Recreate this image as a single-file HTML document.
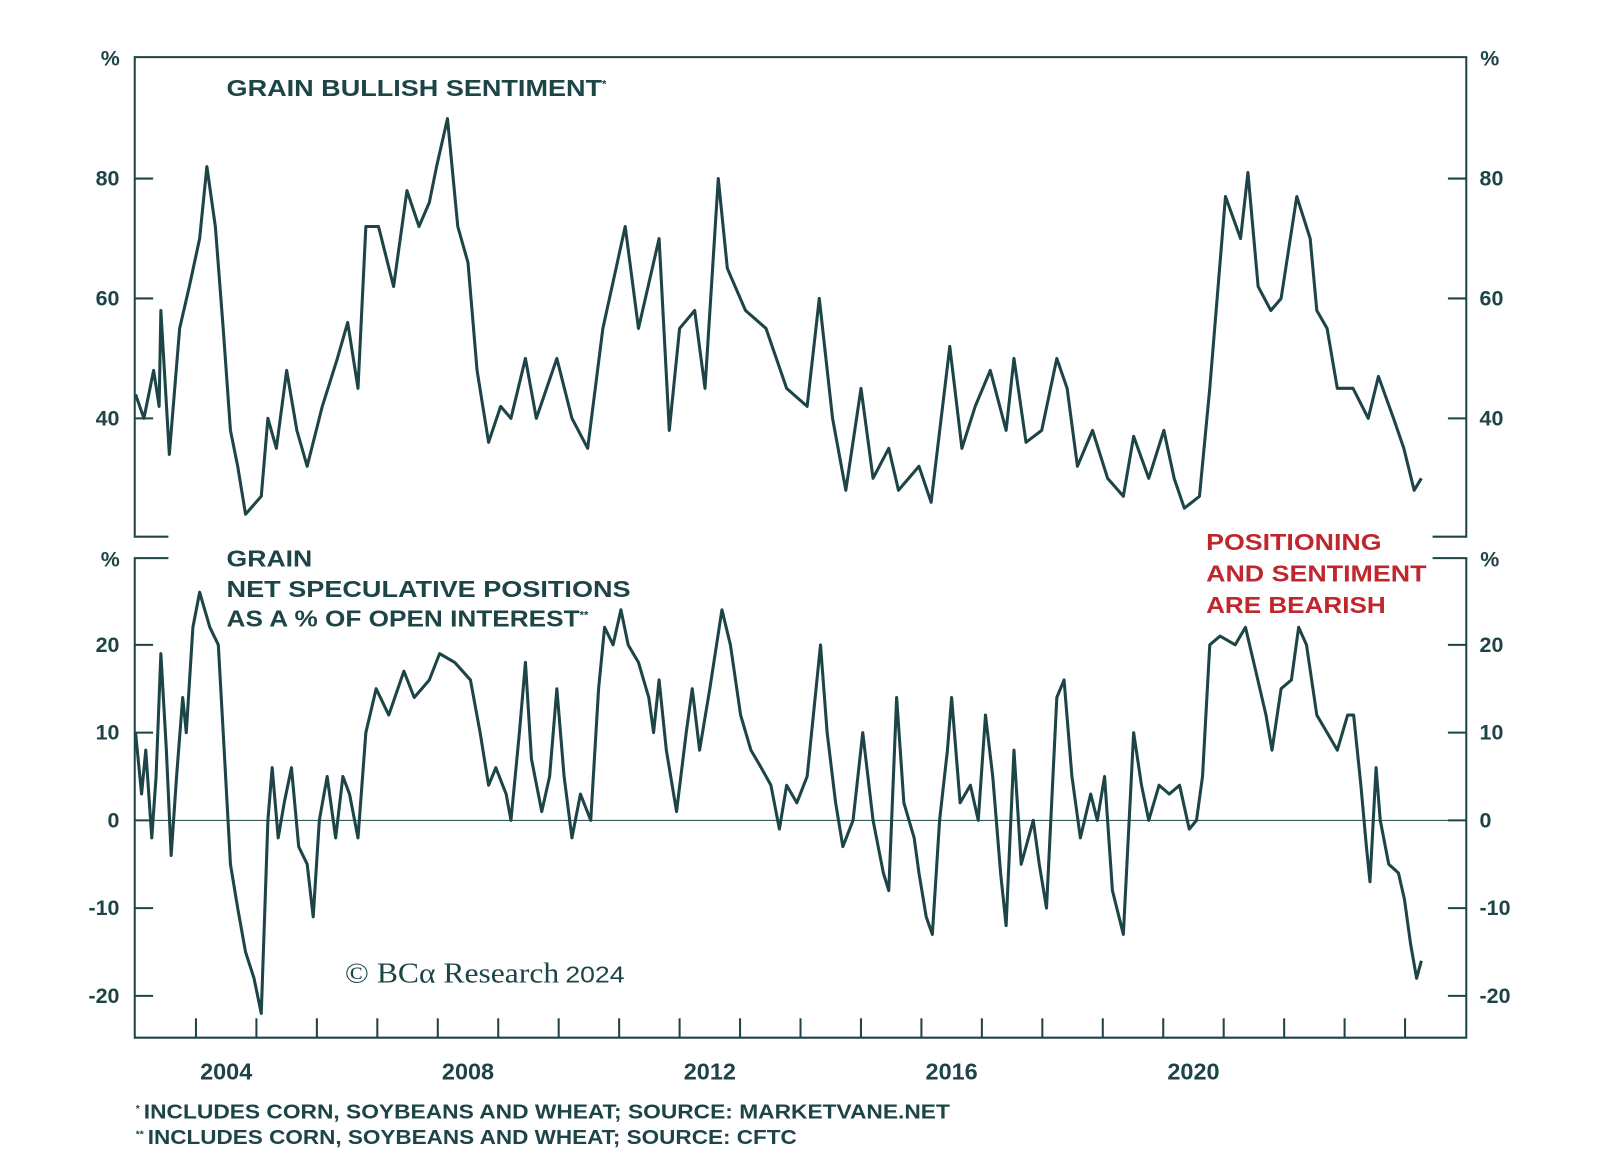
<!DOCTYPE html>
<html><head><meta charset="utf-8"><style>
html,body{margin:0;padding:0;background:#fff;}
svg{display:block;}
text{font-family:"Liberation Sans",sans-serif;fill:#1d4446;font-weight:bold;}
</style></head><body>
<svg id="chart" width="1600" height="1154" viewBox="0 0 1568 1131" xmlns="http://www.w3.org/2000/svg">
<g id="frame" stroke="#1d4446" stroke-width="2" fill="none">
<path d="M165,526 H132 V56 H1437 V526 H1404"/>
<path d="M165,547 H132 V1017 H1437 V547 H1404"/>
</g>
<line x1="132" x2="1437" y1="804" y2="804" stroke="#1d4446" stroke-width="1"/>
<g id="axes"></g>
<text x="222" y="94" font-size="23"><tspan textLength="368" lengthAdjust="spacingAndGlyphs">GRAIN BULLISH SENTIMENT</tspan><tspan font-size="11" dy="-8">*</tspan></text>
<text font-size="23"><tspan x="222" y="555" textLength="84" lengthAdjust="spacingAndGlyphs">GRAIN</tspan><tspan x="222" y="585" textLength="396" lengthAdjust="spacingAndGlyphs">NET SPECULATIVE POSITIONS</tspan><tspan x="222" y="614" textLength="346" lengthAdjust="spacingAndGlyphs">AS A % OF OPEN INTEREST</tspan><tspan font-size="11" dy="-8">**</tspan></text>
<text font-size="23" style="fill:#c0272d"><tspan x="1182" y="539" textLength="172" lengthAdjust="spacingAndGlyphs">POSITIONING</tspan><tspan x="1182" y="570" textLength="216" lengthAdjust="spacingAndGlyphs">AND SENTIMENT</tspan><tspan x="1182" y="601" textLength="176" lengthAdjust="spacingAndGlyphs">ARE BEARISH</tspan></text>
<text x="338" y="963" font-size="28" style="font-family:'Liberation Serif',serif;font-weight:normal"><tspan textLength="210" lengthAdjust="spacingAndGlyphs">© BCα Research</tspan><tspan style="font-family:'Liberation Sans',sans-serif" font-size="23" dx="6" textLength="58" lengthAdjust="spacingAndGlyphs">2024</tspan></text>
<text x="133" y="1096" font-size="20"><tspan font-size="10" dy="-6">*</tspan><tspan dy="6" dx="4" textLength="790" lengthAdjust="spacingAndGlyphs">INCLUDES CORN, SOYBEANS AND WHEAT; SOURCE: MARKETVANE.NET</tspan></text>
<text x="133" y="1121" font-size="20"><tspan font-size="10" dy="-6">**</tspan><tspan dy="6" dx="4" textLength="636" lengthAdjust="spacingAndGlyphs">INCLUDES CORN, SOYBEANS AND WHEAT; SOURCE: CFTC</tspan></text>
<g id="series"></g>
</svg>
<script>
const upperYears=[2003.00,2003.14,2003.30,2003.39,2003.42,2003.56,2003.73,2003.89,2004.06,2004.18,2004.32,2004.45,2004.57,2004.69,2004.82,2005.08,2005.19,2005.33,2005.50,2005.67,2005.84,2006.09,2006.34,2006.51,2006.68,2006.81,2007.02,2007.27,2007.49,2007.69,2007.86,2007.98,2008.16,2008.33,2008.50,2008.65,2008.84,2009.04,2009.21,2009.45,2009.63,2009.97,2010.22,2010.48,2010.73,2011.10,2011.32,2011.66,2011.83,2012.00,2012.25,2012.42,2012.64,2012.79,2013.09,2013.43,2013.77,2014.11,2014.31,2014.53,2014.75,2015.00,2015.20,2015.46,2015.62,2015.96,2016.16,2016.47,2016.67,2016.89,2017.14,2017.40,2017.53,2017.73,2017.99,2018.24,2018.41,2018.58,2018.83,2019.08,2019.34,2019.51,2019.76,2020.01,2020.18,2020.35,2020.60,2020.77,2021.03,2021.28,2021.40,2021.57,2021.78,2021.95,2022.21,2022.43,2022.54,2022.71,2022.88,2023.14,2023.39,2023.56,2023.81,2023.98,2024.15,2024.27];
const upperValues=[44,40,48,42,58,34,55,62,70,82,72,55,38,32,24,27,40,35,48,38,32,42,50,56,45,72,72,62,78,72,76,82,90,72,66,48,36,42,40,50,40,50,40,35,55,72,55,70,38,55,58,45,80,65,58,55,45,42,60,40,28,45,30,35,28,32,26,52,35,42,48,38,50,36,38,50,45,32,38,30,27,37,30,38,30,25,27,45,77,70,81,62,58,60,77,70,58,55,45,45,40,47,40,35,28,30];
const lowerYears=[2003.00,2003.10,2003.17,2003.27,2003.34,2003.42,2003.51,2003.59,2003.68,2003.78,2003.84,2003.95,2004.06,2004.23,2004.37,2004.45,2004.57,2004.69,2004.82,2004.96,2005.08,2005.19,2005.26,2005.36,2005.46,2005.58,2005.70,2005.84,2005.94,2006.04,2006.17,2006.31,2006.43,2006.54,2006.68,2006.81,2006.98,2007.19,2007.44,2007.61,2007.86,2008.03,2008.28,2008.54,2008.70,2008.84,2008.96,2009.13,2009.21,2009.35,2009.45,2009.55,2009.72,2009.85,2009.97,2010.09,2010.22,2010.36,2010.53,2010.66,2010.76,2010.90,2011.03,2011.15,2011.32,2011.49,2011.57,2011.66,2011.78,2011.95,2012.11,2012.21,2012.33,2012.50,2012.70,2012.84,2013.01,2013.18,2013.35,2013.51,2013.65,2013.77,2013.94,2014.11,2014.33,2014.44,2014.58,2014.70,2014.87,2015.03,2015.20,2015.37,2015.46,2015.59,2015.71,2015.88,2015.96,2016.08,2016.18,2016.30,2016.43,2016.50,2016.64,2016.81,2016.94,2017.06,2017.18,2017.31,2017.40,2017.53,2017.65,2017.85,2017.95,2018.07,2018.24,2018.36,2018.49,2018.63,2018.80,2018.91,2019.03,2019.16,2019.34,2019.51,2019.64,2019.76,2019.93,2020.10,2020.27,2020.43,2020.55,2020.65,2020.77,2020.94,2021.19,2021.36,2021.53,2021.70,2021.80,2021.95,2022.12,2022.24,2022.37,2022.54,2022.71,2022.88,2023.05,2023.15,2023.27,2023.36,2023.42,2023.52,2023.59,2023.73,2023.89,2023.99,2024.09,2024.19,2024.27];
const lowerValues=[10,3,8,-2,5,19,8,-4,5,14,10,22,26,22,20,10,-5,-10,-15,-18,-22,0,6,-2,2,6,-3,-5,-11,0,5,-2,5,3,-2,10,15,12,17,14,16,19,18,16,10,4,6,3,0,10,18,7,1,5,15,5,-2,3,0,15,22,20,24,20,18,14,10,16,8,1,10,15,8,15,24,20,12,8,6,4,-1,4,2,5,20,10,2,-3,0,10,0,-6,-8,14,2,-2,-6,-11,-13,0,8,14,2,4,0,12,5,-6,-12,8,-5,0,-5,-10,14,16,5,-2,3,0,5,-8,-13,10,4,0,4,3,4,-1,0,5,20,21,20,22,17,12,8,15,16,22,20,12,10,8,12,12,4,-3,-7,6,0,-5,-6,-9,-14,-18,-16];
const upperTicks=[80,60,40];
const lowerTicks=[20,10,0,-10,-20];
const yearLabels=[2004,2008,2012,2016,2020];
const tickYears=[2004,2005,2006,2007,2008,2009,2010,2011,2012,2013,2014,2015,2016,2017,2018,2019,2020,2021,2022,2023,2024];

const NS='http://www.w3.org/2000/svg';
const xS=t=>192+(t-2004)*59.25;
const yU=v=>175+(80-v)*5.875;
const yL=v=>804+(0-v)*8.6;
const axes=document.getElementById('axes');
const ser=document.getElementById('series');
function mk(tag,attrs,parent){const e=document.createElementNS(NS,tag);for(const k in attrs)e.setAttribute(k,attrs[k]);parent.appendChild(e);return e;}
function txt(x,y,s,anchor,parent,fs){const e=mk('text',{x:x,y:y,'font-size':fs||21,'text-anchor':anchor},parent);e.textContent=s;return e;}

upperTicks.forEach(v=>{
  const y=yU(v);
  const a=mk('line',{x1:132,x2:150,y1:y,y2:y,stroke:'#1d4446','stroke-width':2},axes);
  
  
  const b=mk('line',{x1:1419,x2:1437,y1:y,y2:y,stroke:'#1d4446','stroke-width':2},axes);
  
  
  const l=txt(117,y+7,String(v),'end',axes);
  
  
  const r=txt(1450,y+7,String(v),'start',axes);
  
  
});
lowerTicks.forEach(v=>{
  const y=yL(v);
  const a=mk('line',{x1:132,x2:150,y1:y,y2:y,stroke:'#1d4446','stroke-width':2},axes);
  
  
  const b=mk('line',{x1:1419,x2:1437,y1:y,y2:y,stroke:'#1d4446','stroke-width':2},axes);
  
  
  const l=txt(117,y+7,String(v),'end',axes);
  
  
  const r=txt(1450,y+7,String(v),'start',axes);
  
  
});
[[108,64],[108,555],[1460,64],[1460,555]].forEach(p=>{
  const e=txt(p[0],p[1],'%','middle',axes);
  
  
});
tickYears.forEach(t=>{
  const x=xS(t);
  const e=mk('line',{x1:x,x2:x,y1:1017,y2:998,stroke:'#1d4446','stroke-width':2},axes);
  
  
});
yearLabels.forEach(t=>{
  const e=txt(xS(t+0.5),1058,String(t),'middle',axes,23);
  
  
});
function line(xs,vs,yf,name){
  const d=xs.map((t,i)=>(i?'L':'M')+xS(t).toFixed(1)+','+yf(vs[i]).toFixed(1)).join(' ');
  const p=mk('path',{d:d,fill:'none',stroke:'#1d4446','stroke-width':3,'stroke-linejoin':'round'},ser);
  
  
}
line(upperYears,upperValues,yU,'bullish-sentiment-line');
line(lowerYears,lowerValues,yL,'net-speculative-positions-line');
</script>
</body></html>
